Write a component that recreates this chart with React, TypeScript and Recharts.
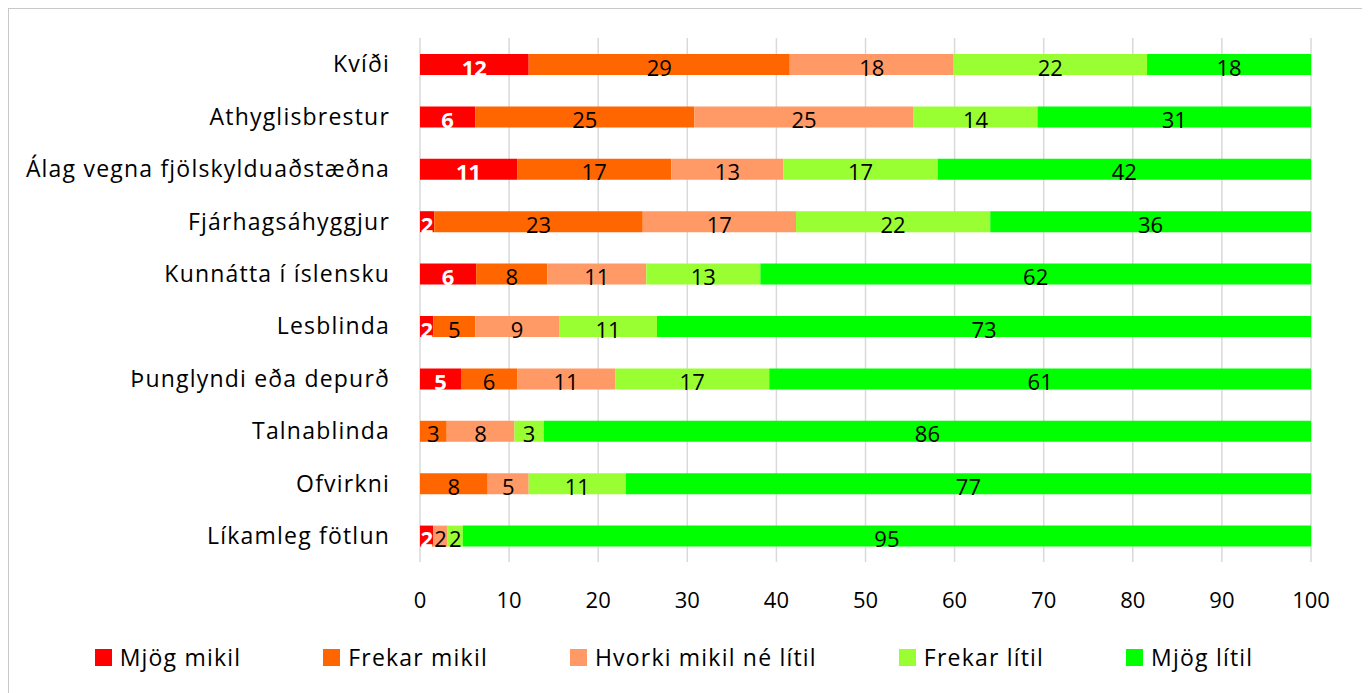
import React from 'react';
import { BarChart, Bar, XAxis, YAxis, CartesianGrid, Legend, LabelList } from 'recharts';

const categories = [
  'Kvíði',
  'Athyglisbrestur',
  'Álag vegna fjölskylduaðstæðna',
  'Fjárhagsáhyggjur',
  'Kunnátta í íslensku',
  'Lesblinda',
  'Þunglyndi eða depurð',
  'Talnablinda',
  'Ofvirkni',
  'Líkamleg fötlun',
];

const mjogMikil = [12.2, 6.2, 10.9, 1.6, 6.3, 1.5, 4.6, 0, 0, 1.5];
const frekarMikil = [29.3, 24.6, 17.3, 23.4, 8.0, 4.7, 6.3, 3.0, 7.6, 0];
const hvorki = [18.4, 24.6, 12.6, 17.2, 11.1, 9.4, 11.0, 7.6, 4.6, 1.6];
const frekarLitil = [21.7, 13.9, 17.3, 21.8, 12.8, 11.0, 17.3, 3.3, 10.9, 1.7];
const mjogLitil = [18.4, 30.7, 41.9, 36.0, 61.8, 73.4, 60.8, 86.1, 76.9, 95.2];

const xTicks = [0, 10, 20, 30, 40, 50, 60, 70, 80, 90, 100];

const series = [
  { key: 'mjogMikil', name: 'Mjög mikil', color: '#FF0000', values: mjogMikil },
  { key: 'frekarMikil', name: 'Frekar mikil', color: '#FF6600', values: frekarMikil },
  { key: 'hvorki', name: 'Hvorki mikil né lítil', color: '#FF9966', values: hvorki },
  { key: 'frekarLitil', name: 'Frekar lítil', color: '#99FF33', values: frekarLitil },
  { key: 'mjogLitil', name: 'Mjög lítil', color: '#00FF00', values: mjogLitil },
];

const data = categories.map((name, i) => {
  const row: any = { name };
  series.forEach(s => { row[s.key] = s.values[i]; });
  return row;
});

const FONT = '"Open Sans", "Noto Sans", sans-serif';
const FS = 22;
// letters in the original are wider than Open Sans at the digit size
const TXT = 23;
const SPACING = 1.2;

const makeLabel = (first: boolean) => (props: any) => {
  const { x, y, width, height, value } = props;
  if (value === 0 && !first) return null;
  return (
    <text
      x={x + width / 2}
      y={y + height / 2 + 2}
      textAnchor="middle"
      dominantBaseline="central"
      fill={first ? '#FFFFFF' : '#000000'}
      fontWeight={first ? 700 : 400}
      fontSize={FS}
      fontFamily={FONT}
    >
      {Math.round(value)}
    </text>
  );
};

const renderLegend = () => (
  <div
    style={{
      display: 'flex',
      justifyContent: 'center',
      alignItems: 'center',
      height: 40,
      paddingRight: 24,
      fontFamily: FONT,
      fontSize: TXT,
      letterSpacing: SPACING,
      color: '#000',
    }}
  >
    {series.map((s, i) => (
      <div key={s.key} style={{ display: 'flex', alignItems: 'center', marginLeft: i === 0 ? 0 : 82 }}>
        <span style={{ width: 17, height: 17, background: s.color, display: 'inline-block', marginRight: 8 }} />
        <span>{s.name}</span>
      </div>
    ))}
  </div>
);

export default function App() {
  return (
    <div
      style={{
        width: 1354,
        height: 684,
        borderTop: '1px solid #c8c8c8',
        borderLeft: '1px solid #c8c8c8',
        borderRight: '1px solid #c8c8c8',
        background: '#fff',
      }}
    >
      <BarChart
        width={1354}
        height={684}
        data={data}
        layout="vertical"
        margin={{ top: 29, right: 52, left: 0, bottom: 41 }}
        barSize={21}
      >
        <CartesianGrid horizontal={false} stroke="#d9d9d9" strokeWidth={1.5} />
        <XAxis
          type="number"
          domain={[0, 100]}
          ticks={xTicks}
          allowDataOverflow
          axisLine={false}
          tickLine={false}
          tickSize={0}
          tickMargin={30}
          height={50}
          tick={{ fill: '#000', fontSize: FS, fontFamily: FONT }}
        />
        <YAxis
          type="category"
          dataKey="name"
          width={411}
          axisLine={false}
          tickLine={false}
          tickSize={0}
          tickMargin={30}
          interval={0}
          tick={{ fill: '#000', fontSize: TXT, fontFamily: FONT, letterSpacing: SPACING }}
        />
        <Legend
          content={renderLegend}
          wrapperStyle={{ left: 0, width: 1354, height: 40, top: 628, bottom: 'auto' }}
        />
        {series.map((s, i) => (
          <Bar
            key={s.key}
            dataKey={s.key}
            name={s.name}
            stackId="a"
            fill={s.color}
            isAnimationActive={false}
          >
            <LabelList dataKey={s.key} content={makeLabel(i === 0)} />
          </Bar>
        ))}
      </BarChart>
    </div>
  );
}
